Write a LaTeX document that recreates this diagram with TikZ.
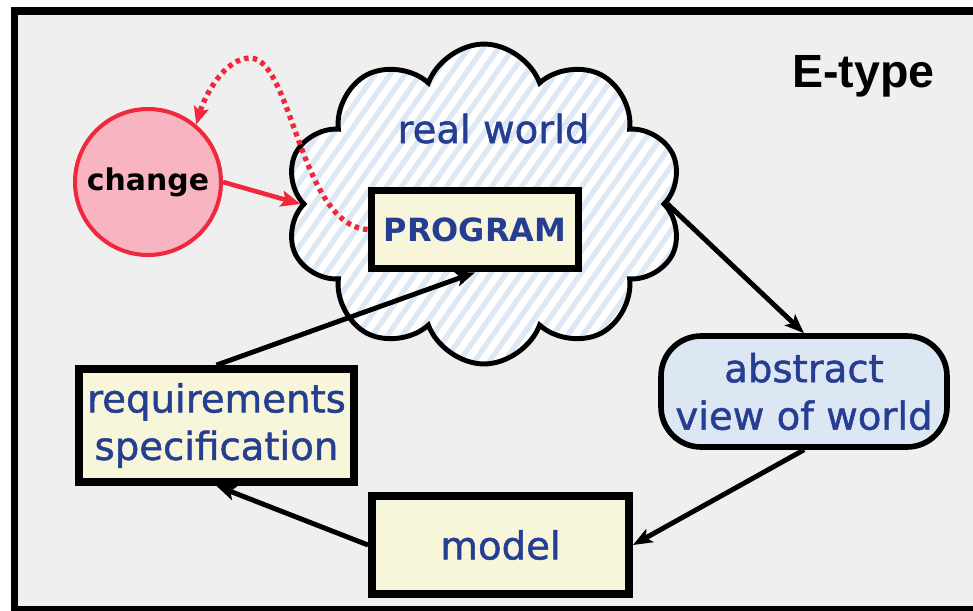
\documentclass[tikz,border=0pt]{standalone}
\usepackage{fontspec}
\newfontfamily\handfont{DejaVu Sans}[BoldFont={DejaVu Sans}, BoldFeatures={FakeBold=1.3}]
\newfontfamily\heavyfont{DejaVu Sans}
\newfontfamily\titlefont{Liberation Sans}
\usetikzlibrary{shapes.symbols,patterns.meta,arrows.meta}

\definecolor{panelgray}{HTML}{EFEFEF}
\definecolor{inkblue}{RGB}{38,62,145}
\definecolor{boxyellow}{HTML}{F7F6DA}
\definecolor{viewblue}{HTML}{DDE7F4}
\definecolor{stripeblue}{HTML}{DDE8F5}
\definecolor{alarmred}{HTML}{F0283C}
\definecolor{alarmpink}{HTML}{F8B5C1}

\tikzset{
  handtext/.style={font=\handfont\bfseries\fontsize{22}{27}\selectfont, text=inkblue},
  stagebox/.style={draw=black, fill=boxyellow, line width=4.5pt, inner sep=0pt, align=center},
  flow/.style={line width=2.8pt, -{Stealth[length=11pt,width=8.5pt,inset=2.5pt]}},
  redflow/.style={draw=alarmred, line width=2.6pt, -{Stealth[length=11pt,width=9pt,inset=2pt]}},
  reddots/.style={draw=alarmred, line width=3pt, dash pattern=on 2.6pt off 2.4pt,
    -{Stealth[length=10pt,width=8.5pt,inset=2pt,sep=0pt]}},
}

\begin{document}
\begin{tikzpicture}[x=0.02cm, y=-0.02cm]
  \clip (0,0) rectangle (973,610);
  \fill[white] (0,0) rectangle (973,610);
  % panel frame
  \filldraw[fill=panelgray, draw=black, line width=4pt] (14.5,11) rectangle (1000,609.5);

  % title
  \node[anchor=base, font=\titlefont\bfseries\fontsize{26.5}{30}\selectfont]
    (title) at (863.5,87) {E-type};

  % the real world, as a hatched cloud
  \node[cloud, cloud puffs=10, cloud puff arc=140, cloud ignores aspect, draw=black, line width=2.8pt,
        minimum width=7.95cm, minimum height=6.4cm,
        preaction={fill=white},
        pattern={Lines[angle=55, distance=7pt, line width=3pt]},
        pattern color=stripeblue] (cloud) at (484,204) {};
  \node[handtext, anchor=base] (rw) at (493.5,143) {real world};

  % program inside the world
  \node[stagebox, minimum width=4.14cm, minimum height=1.56cm,
        font=\heavyfont\bfseries\fontsize{18.2}{22}\selectfont, text=inkblue]
    (prog) at (475,229.5) {PROGRAM};

  % change
  \node[circle, draw=alarmred, fill=alarmpink, line width=2.3pt, minimum size=2.92cm,
        inner sep=0pt, font=\heavyfont\bfseries\fontsize{17}{20}\selectfont]
    (chg) at (148,182) {change};

  % abstract view
  \node[draw=black, fill=viewblue, line width=3.2pt, rounded corners=0.8cm,
        minimum width=5.72cm, minimum height=2.22cm, inner sep=0pt, align=center, handtext]
    (view) at (804,391.5) {abstract\\view of world};

  % model
  \node[stagebox, handtext, minimum width=5.14cm, minimum height=1.96cm]
    (model) at (500.5,545) {model};

  % requirements specification
  \node[stagebox, handtext, minimum width=5.5cm, minimum height=2.26cm]
    (req) at (216.5,425.5) {requirements\\specification};

  % cycle of arrows
  \draw[flow] (cloud.east) -- (view.north);
  \draw[flow] (view.south) -- (model.east);
  \draw[flow] (model.west) -- (req.south);
  \draw[flow] (req.north) -- (prog.south);

  % change acting on the world, and the feedback from the program
  \draw[redflow] (chg.east) -- (cloud.west);
  \coordinate (peak) at (250,58);
  \draw[reddots] (prog.west) .. controls (300,225) and (292,58) .. (peak)
                 .. controls (225,58) and (205,95) .. (chg.50);
\end{tikzpicture}
\end{document}
